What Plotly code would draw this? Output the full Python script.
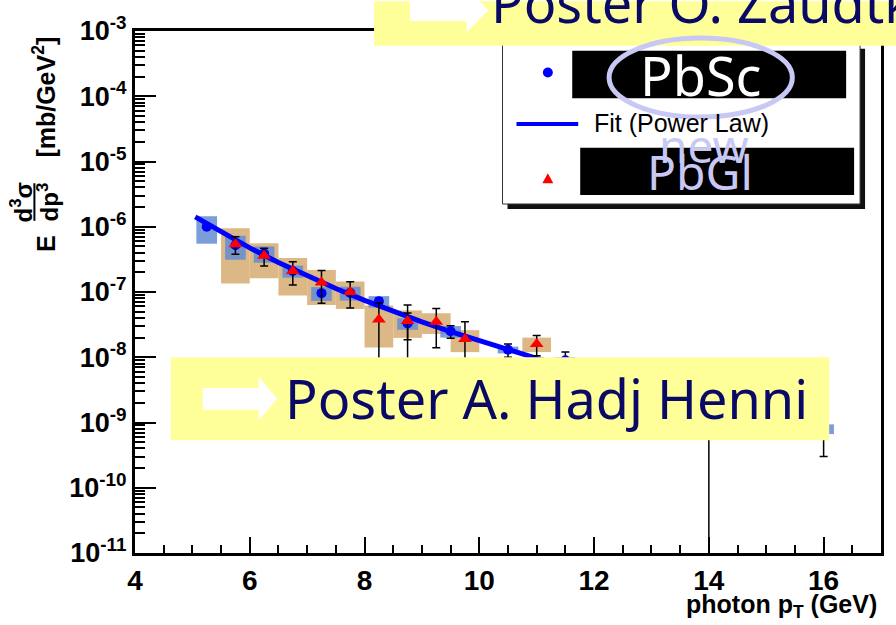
import plotly.graph_objects as go

# ---- PbSc measurement (blue circles) ----
sc_pt = [5.25, 5.75, 6.25, 6.75, 7.25, 7.75, 8.25, 8.75, 9.5, 10.5, 11.5, 12.5, 14.0, 16.0]
sc_val = [1.0e-6, 5.2e-7, 3.9e-7, 2.1e-7, 9.6e-8, 9.7e-8, 7.2e-8, 3.3e-8, 2.5e-8, 1.3e-8, 9.0e-9, 5.0e-9, 2.0e-9, 8.0e-10]
sc_stat = [5e-8, 3e-8, 2e-8, 1.2e-8, 8e-9, 7e-9, 8e-9, 1.45e-8, 5.5e-9, 3e-9, 3e-9, 2e-9, 3e-9, 5e-10]
sc_syst = [0.45, 0.40, 0.28, 0.21, 0.24, 0.24, 0.20, 0.20, 0.20, 0.12, 0.12, 0.15, 0.20, 0.17]  # relative

# ---- PbGl measurement (red triangles) ----
gl_pt = [5.75, 6.25, 6.75, 7.25, 7.75, 8.25, 8.75, 9.25, 9.75, 11.0]
gl_val = [5.4e-7, 3.6e-7, 2.1e-7, 1.4e-7, 1.0e-7, 3.8e-8, 3.6e-8, 3.5e-8, 1.9e-8, 1.6e-8]
gl_stat = [1.6e-7, 1.1e-7, 8.2e-8, 7.3e-8, 4.3e-8, 3.0e-8, 2.7e-8, 2.1e-8, 1.6e-8, 5.5e-9]
gl_syst = [0.75, 0.55, 0.58, 0.55, 0.45, 0.63, 0.45, 0.35, 0.37, 0.25]  # relative

# ---- power-law fit curve ----
fit_pt = [5.05, 5.5, 6.0, 6.5, 7.0, 7.5, 8.0, 8.5, 9.0, 9.5, 10.0, 10.5, 11.0, 12.0, 13.0, 14.0, 15.0]
fit_val = [1.42e-6, 8.3e-7, 4.74e-7, 2.83e-7, 1.76e-7, 1.13e-7, 7.46e-8, 5.05e-8, 3.49e-8,
           2.47e-8, 1.78e-8, 1.30e-8, 9.6e-9, 5.5e-9, 3.3e-9, 2.04e-9, 1.31e-9]

y_decades = [-11, -10, -9, -8, -7, -6, -5, -4, -3]
x_ticks = [4, 6, 8, 10, 12, 14, 16]

W, H = 896, 625
L, R, T, B = 135, 884, 25, 553


def px(x):
    return (x - L) / (R - L)


def py(y):
    return (B - y) / (B - T)


BLUE_BOX = "rgba(100,140,210,0.85)"
TAN_BOX = "#dcb886"
YELLOW = "#ffff99"
NAVY = "#0a0a66"
LAVENDER = "#c8c8f4"

fig = go.Figure()

shapes = []
# systematic boxes (PbGl underneath, PbSc on top)
for x, v, s in zip(gl_pt, gl_val, gl_syst):
    shapes.append(dict(type="rect", xref="x", yref="y", x0=x - 0.25, x1=x + 0.25,
                       y0=v * (1 - s), y1=v * (1 + s), fillcolor=TAN_BOX,
                       line=dict(width=0), layer="below"))
for x, v, s in zip(sc_pt, sc_val, sc_syst):
    shapes.append(dict(type="rect", xref="x", yref="y", x0=x - 0.18, x1=x + 0.18,
                       y0=v * (1 - s), y1=v * (1 + s), fillcolor=BLUE_BOX,
                       line=dict(width=0), layer="below"))

fig.add_trace(go.Scatter(x=fit_pt, y=fit_val, mode="lines",
                         line=dict(color="#0000ff", width=5), showlegend=False))
fig.add_trace(go.Scatter(x=sc_pt, y=sc_val, mode="markers",
                         marker=dict(symbol="circle", size=10, color="#0000ff"),
                         error_y=dict(type="data", array=sc_stat, color="black",
                                      thickness=1.5, width=4),
                         showlegend=False))
fig.add_trace(go.Scatter(x=gl_pt, y=gl_val, mode="markers",
                         marker=dict(symbol="triangle-up", size=12, color="#ff0000"),
                         error_y=dict(type="data", array=gl_stat, color="black",
                                      thickness=1.5, width=4),
                         showlegend=False))

# ---- legend panel ----
shapes += [
    dict(type="rect", xref="paper", yref="paper", x0=px(509), x1=px(868), y0=py(205), y1=py(43),
         fillcolor="#111111", line=dict(width=0), layer="above"),
    dict(type="rect", xref="paper", yref="paper", x0=px(504), x1=px(863), y0=py(200), y1=py(38),
         fillcolor="white", line=dict(color="#333333", width=1), layer="above"),
    dict(type="rect", xref="paper", yref="paper", x0=px(574), x1=px(849), y0=py(93), y1=py(45),
         fillcolor="black", line=dict(width=0), layer="above"),
    dict(type="rect", xref="paper", yref="paper", x0=px(582), x1=px(857), y0=py(191), y1=py(143),
         fillcolor="black", line=dict(width=0), layer="above"),
    dict(type="line", xref="paper", yref="paper", x0=px(518), x1=px(580), y0=py(119), y1=py(119),
         line=dict(color="#0000ff", width=4), layer="above"),
    dict(type="circle", xref="paper", yref="paper", x0=px(544.5), x1=px(554.5), y0=py(72), y1=py(62),
         fillcolor="#0000ff", line=dict(width=0), layer="above"),
    dict(type="path", xref="paper", yref="paper",
         path=f"M {px(544)} {py(179)} L {px(555)} {py(179)} L {px(549.5)} {py(169)} Z",
         fillcolor="#ff0000", line=dict(width=0), layer="above"),
]

# ---- poster callouts ----
shapes += [
    dict(type="rect", xref="paper", yref="paper", x0=px(375), x1=px(900), y0=py(40), y1=py(-5),
         fillcolor=YELLOW, line=dict(width=0), layer="above"),
    dict(type="path", xref="paper", yref="paper",
         path=(f"M {px(411)} {py(-7)} L {px(468)} {py(-7)} L {px(468)} {py(-18)} "
               f"L {px(490)} {py(4)} L {px(468)} {py(26)} L {px(468)} {py(15)} "
               f"L {px(411)} {py(15)} Z"),
         fillcolor="white", line=dict(width=0), layer="above"),
    dict(type="rect", xref="paper", yref="paper", x0=px(171), x1=px(832), y0=py(439), y1=py(355),
         fillcolor=YELLOW, line=dict(width=0), layer="above"),
    dict(type="path", xref="paper", yref="paper",
         path=(f"M {px(203)} {py(386)} L {px(259)} {py(386)} L {px(259)} {py(375)} "
               f"L {px(278)} {py(397)} L {px(259)} {py(419)} L {px(259)} {py(408)} "
               f"L {px(203)} {py(408)} Z"),
         fillcolor="white", line=dict(width=0), layer="above"),
    # highlight ring around the PbSc label
    dict(type="circle", xref="paper", yref="paper", x0=px(611), x1=px(795), y0=py(112), y1=py(32),
         line=dict(color=LAVENDER, width=5), layer="above"),
    # fraction bar of the y-axis title
    dict(type="line", xref="paper", yref="paper", x0=px(34), x1=px(34), y0=py(179), y1=py(217),
         line=dict(color="black", width=2), layer="above"),
]

ann = []
BOLD = dict(family="Liberation Sans", weight="bold", color="black")


def label(x, y, text, font, xanchor="center", yanchor="middle", angle=0):
    ann.append(dict(x=px(x), y=py(y), xref="paper", yref="paper", text=text,
                    xanchor=xanchor, yanchor=yanchor, textangle=angle,
                    showarrow=False, font=font))


# y-axis title, rotated
label(44, 92, "[mb/GeV<sup>2</sup>]", dict(size=25, **BOLD), angle=-90)
label(45, 240, "E", dict(size=25, **BOLD), angle=-90)
label(21, 198, "d<sup>3</sup>σ", dict(size=24, **BOLD), angle=-90)
label(48, 198, "dp<sup>3</sup>", dict(size=24, **BOLD), angle=-90)
# x-axis title
label(882, 607, "photon p<sub>T</sub> (GeV)", dict(size=25, **BOLD), xanchor="right")

POSTER_FONT = "Noto Sans"
label(594, 118, "Fit (Power Law)", dict(family="Liberation Sans", size=25, color="black"),
      xanchor="left")
label(703, 69, "PbSc", dict(family=POSTER_FONT, size=54, color="white"))
label(706, 140, "new", dict(family=POSTER_FONT, size=46, color=LAVENDER))
label(702, 167, "PbGl", dict(family=POSTER_FONT, size=48, color=LAVENDER))
label(284, 396, "Poster A. Hadj Henni", dict(family=POSTER_FONT, size=54, color=NAVY),
      xanchor="left")
label(490, -4, "Poster O. Zaudtke", dict(family=POSTER_FONT, size=54, color=NAVY),
      xanchor="left")

fig.update_layout(
    width=W, height=H,
    margin=dict(l=L, r=W - R, t=T, b=H - B),
    paper_bgcolor="white", plot_bgcolor="white",
    shapes=shapes, annotations=ann, showlegend=False,
)
fig.update_xaxes(
    range=[4, 17], tickvals=x_ticks, ticks="inside", ticklen=16, tickwidth=1.5, tickcolor="black",
    showline=True, linewidth=3, linecolor="black", mirror=True, showgrid=False, zeroline=False,
    tickfont=dict(size=28, **BOLD), ticklabelstandoff=0,
    minor=dict(dtick=0.5, ticks="inside", ticklen=8, tickwidth=1.5, tickcolor="black", showgrid=False),
)
fig.update_yaxes(
    type="log", range=[-11, -3], tickvals=[10 ** d for d in y_decades],
    ticktext=[f"10<sup>{d}</sup>" for d in y_decades],
    ticks="inside", ticklen=21, tickwidth=1.5, tickcolor="black",
    showline=True, linewidth=3, linecolor="black", mirror=True, showgrid=False, zeroline=False,
    tickfont=dict(size=27, **BOLD), ticklabelstandoff=0,
    minor=dict(dtick="D1", ticks="inside", ticklen=10, tickwidth=1.5, tickcolor="black", showgrid=False),
)

fig.write_html("out.html")
